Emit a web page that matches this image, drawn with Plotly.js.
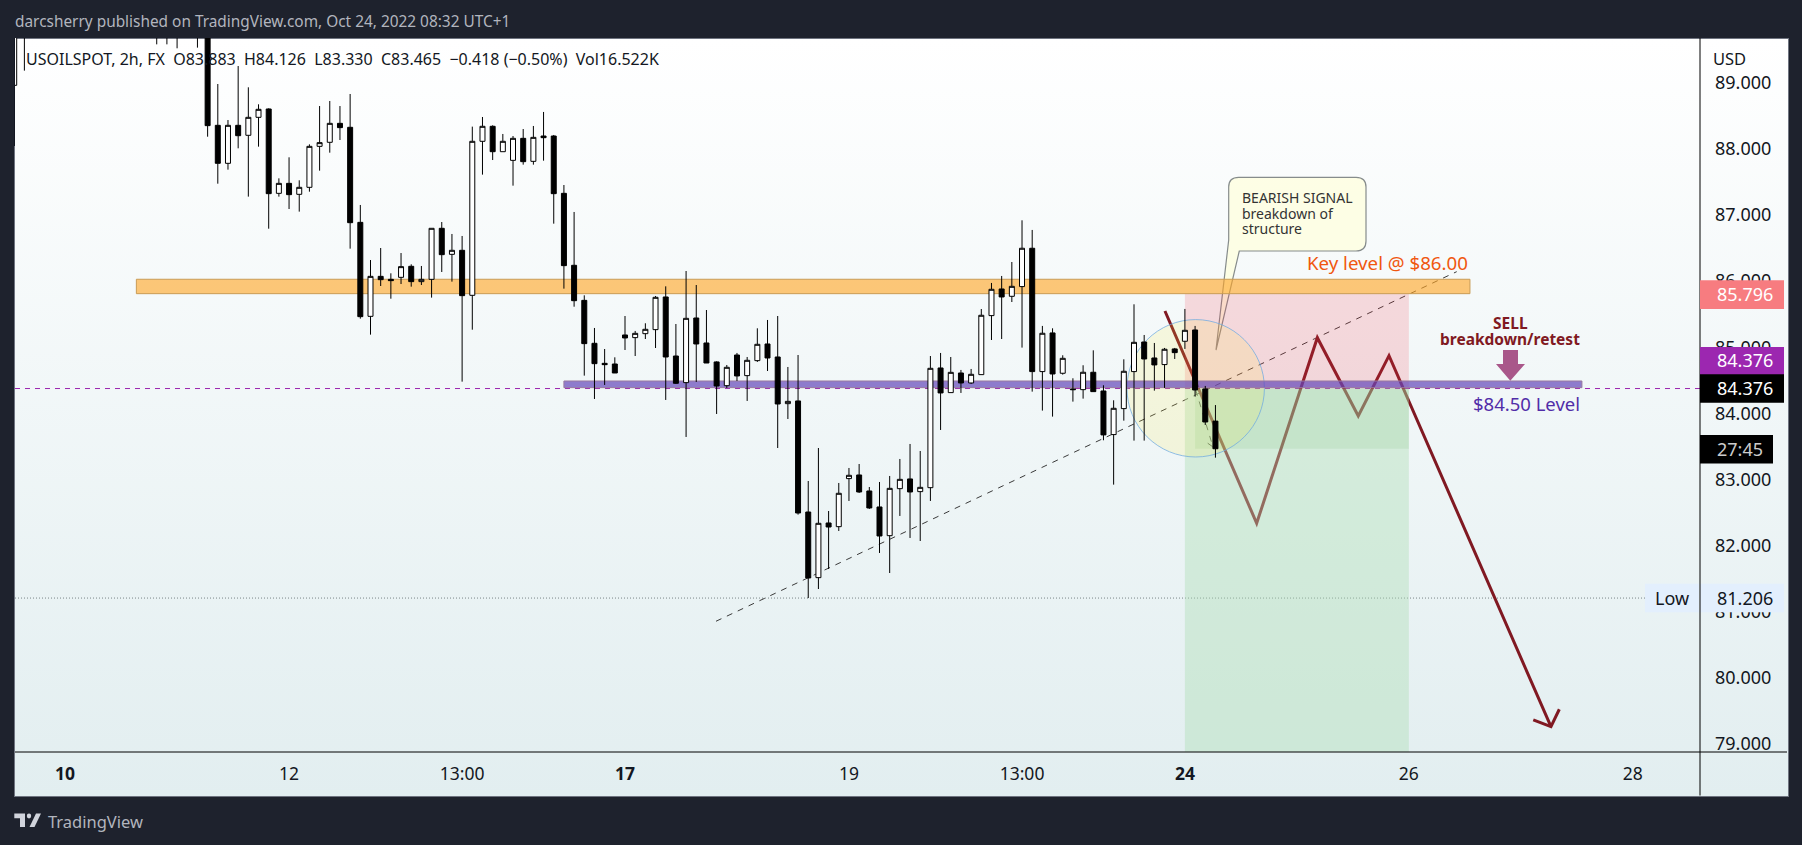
<!DOCTYPE html>
<html>
<head>
<meta charset="utf-8">
<script src="https://cdn.plot.ly/plotly-3.0.1.min.js"></script>
<style>
  html, body { margin: 0; padding: 0; background: #1e222d; overflow: hidden; }
  #panel {
    position: absolute; left: 14px; top: 38px; width: 1773px; height: 757px;
    box-sizing: content-box; border: 1px solid #6f7480;
    background: linear-gradient(#ffffff, #e2eef0);
  }
  #chart { position: absolute; left: 0; top: 0; width: 1802px; height: 845px; }
</style>
</head>
<body>
<div id="panel"></div>
<div id="chart"></div>
<script>
// bars that fall fully above the visible price range were left out
const bars = [0, 1, 14, 15, 16, 18, 19,
  20, 21, 22, 23, 24, 25, 26, 27, 28, 29,
  30, 31, 32, 33, 34, 35, 36, 37, 38, 39,
  40, 41, 42, 43, 44, 45, 46, 47, 48, 49,
  50, 51, 52, 53, 54, 55, 56, 57, 58, 59,
  60, 61, 62, 63, 64, 65, 66, 67, 68, 69,
  70, 71, 72, 73, 74, 75, 76, 77, 78, 79,
  80, 81, 82, 83, 84, 85, 86, 87, 88, 89,
  90, 91, 92, 93, 94, 95, 96, 97, 98, 99,
  100, 101, 102, 103, 104, 105, 106, 107, 108, 109,
  110, 111, 112, 113, 114, 115, 116, 117, 118];

const opens = [88.963, 90.4, 90.3, 90.1, 90.3, 90.0, 90.3,
  88.358, 87.783, 88.358, 88.207, 88.479, 88.605, 87.329, 87.480, 87.314, 87.420,
  88.040, 88.101, 88.388, 88.328, 86.890, 85.468, 86.073, 86.028, 86.058, 86.225,
  85.993, 86.028, 86.800, 86.406, 86.467, 85.786, 88.116, 88.343, 87.959, 87.828,
  88.161, 87.813, 88.196, 88.196, 87.329, 86.240, 85.710, 85.060, 84.757, 84.747,
  85.186, 85.146, 85.206, 85.267, 85.761, 84.868, 84.465, 85.443, 85.065, 84.778,
  84.419, 84.883, 84.571, 84.798, 85.050, 84.853, 84.147, 84.188, 82.508, 81.515,
  82.342, 82.286, 83.013, 83.068, 82.826, 82.584, 82.150, 82.861, 83.008, 82.816,
  82.876, 84.687, 84.314, 84.611, 84.460, 84.586, 85.479, 85.882, 85.771, 85.918,
  86.498, 84.632, 85.217, 84.607, 84.370, 84.359, 84.622, 84.339, 83.679, 84.072,
  84.632, 85.080, 84.838, 84.738, 84.975, 85.091, 85.262, 84.370, 83.883];

const highs = [90.9, 90.8, 90.6, 90.5, 90.5, 90.6, 90.5,
  88.983, 88.438, 89.255, 88.933, 88.676, 88.615, 87.556, 87.874, 87.526, 88.070,
  88.650, 88.726, 88.650, 88.832, 87.153, 86.320, 86.502, 86.119, 86.426, 86.255,
  86.230, 86.800, 86.895, 86.714, 86.684, 88.338, 88.484, 88.358, 88.227, 88.196,
  88.302, 88.348, 88.560, 88.212, 87.455, 87.047, 85.786, 85.292, 84.974, 84.848,
  85.473, 85.247, 85.363, 85.776, 85.922, 85.352, 86.154, 85.942, 85.564, 84.788,
  84.732, 84.914, 84.853, 85.287, 85.413, 85.473, 84.702, 84.883, 82.977, 83.476,
  82.523, 82.947, 83.174, 83.234, 82.886, 82.962, 83.053, 83.310, 83.537, 83.431,
  84.868, 84.914, 84.853, 84.657, 84.672, 85.579, 85.973, 86.079, 86.290, 86.921,
  86.775, 85.323, 85.287, 84.879, 84.531, 84.728, 84.954, 84.425, 84.198, 84.818,
  85.650, 85.186, 85.065, 84.990, 84.990, 85.580, 85.323, 84.415, 84.126];

const lows = [88.963, 89.185, 89.583, 89.583, 89.523, 89.533, 88.186,
  87.475, 87.687, 88.010, 87.279, 88.035, 86.794, 87.279, 87.092, 87.052, 87.354,
  87.672, 87.944, 88.136, 86.492, 85.433, 85.191, 85.927, 85.735, 85.957, 85.917,
  85.942, 85.751, 86.139, 85.993, 84.480, 85.266, 87.612, 87.833, 87.959, 87.445,
  87.763, 87.763, 87.823, 86.870, 85.887, 85.614, 84.571, 84.218, 84.430, 84.611,
  84.959, 84.868, 85.125, 84.989, 84.203, 84.445, 83.643, 84.475, 84.762, 83.991,
  84.384, 84.490, 84.188, 84.778, 84.641, 83.476, 83.915, 82.468, 81.206, 81.343,
  81.646, 82.221, 82.675, 82.796, 82.554, 81.888, 81.585, 82.448, 82.115, 82.069,
  82.675, 83.749, 84.314, 84.309, 84.445, 84.586, 85.110, 85.125, 85.685, 84.995,
  84.329, 84.042, 83.951, 84.586, 84.178, 84.223, 84.329, 83.593, 82.922, 83.890,
  83.588, 83.588, 84.344, 84.385, 84.823, 84.975, 84.253, 83.825, 83.330];

const closes = [90.4, 90.1, 90.1, 90.3, 90.0, 90.3, 88.353,
  87.783, 88.358, 88.201, 88.479, 88.600, 87.324, 87.480, 87.309, 87.420, 88.040,
  88.096, 88.388, 88.323, 86.885, 85.463, 86.073, 86.023, 86.008, 86.220, 85.993,
  86.028, 86.800, 86.401, 86.467, 85.781, 88.116, 88.343, 87.959, 88.116, 88.161,
  87.808, 88.176, 88.171, 87.324, 86.235, 85.705, 85.055, 84.752, 84.737, 84.611,
  85.141, 85.211, 85.272, 85.756, 84.853, 84.455, 85.438, 85.050, 84.762, 84.414,
  84.697, 84.566, 84.803, 85.045, 84.838, 84.142, 84.182, 82.493, 81.510, 82.337,
  82.281, 82.791, 83.063, 82.811, 82.569, 82.145, 82.866, 83.002, 82.811, 82.881,
  84.682, 84.309, 84.621, 84.460, 84.591, 85.484, 85.877, 85.761, 85.922, 86.498,
  84.632, 85.212, 84.596, 84.833, 84.359, 84.622, 84.329, 83.674, 84.077, 84.637,
  85.075, 84.823, 84.733, 84.970, 84.919, 85.257, 84.354, 83.870, 83.465];

const priceTicks = [79, 80, 81, 82, 83, 84, 85, 86, 87, 88, 89];
const priceTickText = ['79.000', '80.000', '81.000', '82.000', '83.000', '84.000', '85.000', '86.000', '87.000', '88.000', '89.000'];
const timeTicks = [5, 27, 44, 60, 82, 99, 115, 137, 159];
const timeTickText = ['<b>10</b>', '12', '13:00', '<b>17</b>', '19', '13:00', '<b>24</b>', '26', '28'];

const lastPrice = 84.376;
const lowPrice = 81.206;
const stopPrice = 85.796;
const countdownPrice = 83.457;

// drawings on the chart, as bar index and price
const zigzagBars = [113.04, 122.05, 128.01, 132.03, 135.05, 150.96];
const zigzagPrices = [85.549, 82.337, 85.145, 83.961, 84.873, 79.260];
const arrowHeadBars = [149.22, 150.96, 151.78];
const arrowHeadPrices = [79.362, 79.260, 79.524];
const trendBars = [68.94, 141.7];
const trendPrices = [80.855, 86.144];
const smallArrowBars = [116.06, 117.76, 117.07];
const smallArrowPrices = [84.354, 83.492, 83.567];

const W = 1802, H = 845;
const M = { l: 15, r: 102, t: 38, b: 93, pad: 0 };
const barPx = 10.18, bar0Px = 14.2;
const pxPerUnit = 66.1;

// paper coordinates from screen pixels, for the frame and the logo
function px(x) { return (x - M.l) / (W - M.l - M.r); }
function py(y) { return 1 - (y - M.t) / (H - M.t - M.b); }

function path(xs, ys) {
  return xs.map((x, i) => (i ? 'L' : 'M') + x + ',' + ys[i]).join(' ');
}
function pixelPath(points) {
  return points.map(p => {
    if (p.length === 4) return 'Q' + px(p[0]) + ',' + py(p[1]) + ' ' + px(p[2]) + ',' + py(p[3]);
    return 'L' + px(p[0]) + ',' + py(p[1]);
  }).join(' ').replace('L', 'M') + ' Z';
}

const candles = {
  type: 'candlestick',
  x: bars, open: opens, high: highs, low: lows, close: closes,
  increasing: { line: { color: '#000000', width: 1 }, fillcolor: '#ffffff' },
  decreasing: { line: { color: '#000000', width: 1 }, fillcolor: '#000000' },
  whiskerwidth: 0,
  hoverinfo: 'skip'
};

function dataRect(x0, x1, y0, y1, fill, lineColor) {
  return {
    type: 'rect', layer: 'below', xref: 'x', yref: 'y', x0: x0, x1: x1, y0: y0, y1: y1,
    fillcolor: fill, line: { width: lineColor ? 1 : 0, color: lineColor || 'rgba(0,0,0,0)' }
  };
}
function dataPath(d, color, width, dash) {
  return {
    type: 'path', layer: 'below', xref: 'x', yref: 'y', path: d,
    line: { color: color, width: width, dash: dash || 'solid' }
  };
}
function pricedTag(price, color, x0, x1) {
  const half = 14.3 / pxPerUnit;
  return {
    type: 'rect', layer: 'above', xref: 'paper', yref: 'y', x0: px(x0), x1: px(x1),
    y0: price - half, y1: price + half, fillcolor: color, line: { width: 0 }
  };
}
function frameLine(x0, y0, x1, y1, color) {
  return {
    type: 'line', layer: 'above', xref: 'paper', yref: 'paper',
    x0: px(x0), y0: py(y0), x1: px(x1), y1: py(y1), line: { color: color, width: 1 }
  };
}
function logoShape(d) {
  return { type: 'path', layer: 'above', xref: 'paper', yref: 'paper', path: d, fillcolor: '#d1d4dc', line: { width: 0 } };
}

const shapes = [
  // price lines
  { type: 'line', layer: 'below', xref: 'paper', yref: 'y', x0: 0, x1: 1, y0: lastPrice, y1: lastPrice,
    line: { color: '#9c27b0', width: 1, dash: '5px,5px' } },
  { type: 'line', layer: 'below', xref: 'paper', yref: 'y', x0: 0, x1: px(1645), y0: lowPrice, y1: lowPrice,
    line: { color: '#7b8588', width: 1, dash: '1px,2px' } },
  // forecast path goes under the position zones so it picks up their tint
  dataPath(path(trendBars, trendPrices), '#3a3a3a', 1, '6px,6px'),
  dataPath(path(smallArrowBars, smallArrowPrices), '#3a3a3a', 1, '6px,6px'),
  dataPath(path(zigzagBars, zigzagPrices), '#801922', 3),
  dataPath(path(arrowHeadBars, arrowHeadPrices), '#801922', 3),
  dataRect(115, 137, lastPrice, 85.806, 'rgba(242,54,69,0.17)'),
  dataRect(115, 137, 78.88, lastPrice, 'rgba(175,222,180,0.42)'),
  dataRect(116, 137, 83.465, lastPrice, 'rgba(100,175,90,0.13)'),
  { type: 'circle', layer: 'below', xref: 'x', yref: 'y', x0: 109.31, x1: 122.81, y0: 83.34, y1: 85.419,
    fillcolor: 'rgba(255,235,59,0.15)', line: { color: 'rgba(110,170,225,0.75)', width: 1 } },
  dataRect(12, 143, 85.811, 86.029, 'rgba(255,167,38,0.62)', '#c99c55'),
  dataRect(54, 154, 84.389, 84.49, 'rgba(100,70,185,0.7)', '#98789f'),
  // callout
  { type: 'path', layer: 'below', xref: 'paper', yref: 'paper',
    path: pixelPath([[1239.3, 251], [1216, 350], [1228.7, 240], [1228.7, 187], [1228.7, 177.3, 1238.7, 177.3],
      [1356, 177.3], [1366, 177.3, 1366, 187], [1366, 241], [1366, 251, 1356, 251]]),
    fillcolor: 'rgba(255,255,220,0.7)', line: { color: '#868c8c', width: 1.2 } },
  // sell arrow
  { type: 'path', layer: 'above', xref: 'paper', yref: 'paper',
    path: pixelPath([[1503, 350], [1518, 350], [1518, 364], [1525, 364], [1510.3, 380.7], [1496, 364], [1503, 364]]),
    fillcolor: '#a9578a', line: { width: 0 } },
  // low tag sits under the axis line, the other tags cover it
  pricedTag(lowPrice, '#e3effd', 1700, 1784),
  pricedTag(lowPrice, '#e3effd', 1645, 1699),
  // frame
  frameLine(1700, 38, 1700, 795.5, '#000000'),
  frameLine(15, 752, 1787, 752, '#000000'),
  frameLine(14.5, 38, 14.5, 146, '#131722'),
  // price tags
  pricedTag(stopPrice, '#f77c80', 1700, 1784),
  pricedTag(lastPrice + 0.41, '#9c27b0', 1700, 1784),
  pricedTag(lastPrice, '#000000', 1700, 1784),
  pricedTag(countdownPrice, '#000000', 1700, 1773),
  // logo
  logoShape(pixelPath([[14.3, 813.5], [25, 813.5], [25, 827], [20, 827], [20, 818.2], [14.3, 818.2]])),
  logoShape(pixelPath([[29, 813.6], [31.2, 813.6, 31.2, 816], [31.2, 818.4, 29, 818.4], [26.8, 818.4, 26.8, 816], [26.8, 813.6, 29, 813.6]])),
  logoShape(pixelPath([[36, 813.5], [41, 813.5], [34.5, 827], [29.5, 827]]))
];

const UI = '"Noto Sans", sans-serif';
function note(text, x, y, size, color, anchor) {
  return {
    text: text, xref: 'paper', yref: 'paper', x: px(x), y: py(y),
    xanchor: anchor || 'left', yanchor: 'middle', showarrow: false,
    borderpad: 0, align: anchor === 'center' ? 'center' : 'left',
    font: { family: UI, size: size, color: color }
  };
}

const annotations = [
  note('darcsherry published on TradingView.com, Oct 24, 2022 08:32 UTC+1', 14, 21, 15.4, '#b2b5be'),
  note('USOILSPOT, 2h, FX\u00a0\u00a0O83.883\u00a0\u00a0H84.126\u00a0\u00a0L83.330\u00a0\u00a0C83.465\u00a0\u00a0\u22120.418 (\u22120.50%)\u00a0\u00a0Vol16.522K', 25, 59, 16, '#131722'),
  note('USD', 1712, 58, 16.5, '#131722'),
  note('BEARISH SIGNAL', 1240.7, 197.7, 14, '#333333'),
  note('breakdown of', 1240.7, 213.7, 14, '#333333'),
  note('structure', 1240.7, 229, 14, '#333333'),
  note('Key level @ $86.00', 1305.7, 262, 18.7, '#f0570f'),
  note('<b>SELL</b>', 1510, 323, 15.5, '#801922', 'center'),
  note('<b>breakdown/retest</b>', 1510, 339.3, 15.5, '#801922', 'center'),
  note('$84.50 Level', 1471.7, 403.3, 18.5, '#512da8'),
  note('85.796', 1715.7, 294.3, 18, '#ffffff'),
  note('84.376', 1715.7, 360.5, 18, '#ffffff'),
  note('84.376', 1715.7, 388.3, 18, '#ffffff'),
  note('27:45', 1715.7, 449.5, 18, '#cccccc'),
  note('Low', 1654, 598.3, 18, '#131722'),
  note('81.206', 1715.7, 598.3, 18, '#131722'),
  note('TradingView', 47, 821, 16.5, '#b2b5be')
];

const layout = {
  width: W, height: H, margin: M, autosize: false, showlegend: false,
  paper_bgcolor: 'rgba(0,0,0,0)', plot_bgcolor: 'rgba(0,0,0,0)',
  hovermode: false, dragmode: false,
  xaxis: {
    type: 'linear', range: [(M.l - bar0Px) / barPx, (W - M.r - bar0Px) / barPx],
    rangeslider: { visible: false }, showgrid: false, zeroline: false, showline: false,
    tickmode: 'array', tickvals: timeTicks, ticktext: timeTickText, ticks: '',
    ticklabelstandoff: 9, tickfont: { family: UI, size: 17.5, color: '#131722' }
  },
  yaxis: {
    side: 'right', range: [78.877, 89.679], showgrid: false, zeroline: false, showline: false,
    tickmode: 'array', tickvals: priceTicks, ticktext: priceTickText, ticks: '',
    ticklabelstandoff: 14, tickfont: { family: UI, size: 18, color: '#131722' }
  },
  shapes: shapes,
  annotations: annotations
};

Plotly.newPlot('chart', [candles], layout, { displayModeBar: false, staticPlot: true });
</script>
</body>
</html>
